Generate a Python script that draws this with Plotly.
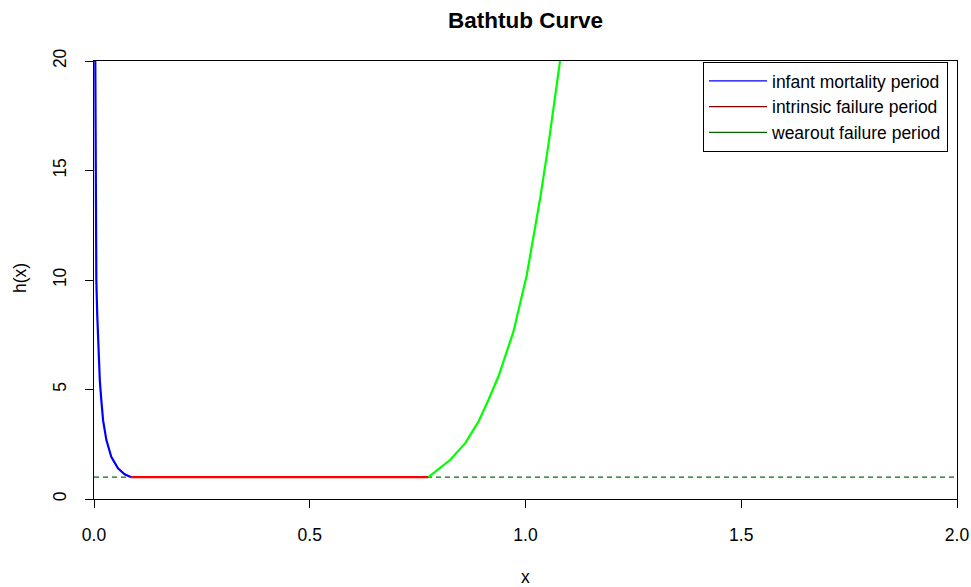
import plotly.graph_objects as go

# Hazard rate h(x) for the three phases of the bathtub curve
infant_x = [0.003, 0.004, 0.0054, 0.0075, 0.0093, 0.0135, 0.017, 0.021, 0.0286, 0.040, 0.0556, 0.071, 0.085]
infant_y = [20.0, 15.0, 10.0, 8.4, 7.3, 5.4, 4.5, 3.6, 2.7, 1.93, 1.40, 1.13, 1.0]

intrinsic_x = [0.085, 0.775]
intrinsic_y = [1.0, 1.0]

wearout_x = [0.775, 0.825, 0.860, 0.891, 0.914, 0.937, 0.972, 1.003, 1.034, 1.053, 1.080]
wearout_y = [1.0, 1.78, 2.54, 3.53, 4.52, 5.58, 7.64, 10.23, 13.73, 16.16, 20.0]

baseline_y = 1.0
legend_labels = ["infant mortality period", "intrinsic failure period", "wearout failure period"]
legend_colors = ["#0000FF", "#8B0000", "#006400"]

x_ticks = [0.0, 0.5, 1.0, 1.5, 2.0]
x_ticklabels = ["0.0", "0.5", "1.0", "1.5", "2.0"]
y_ticks = [0, 5, 10, 15, 20]

FONT = "Liberation Sans, Arial, sans-serif"
W, H = 971, 587
L, R, T, B = 94, 14, 61, 88
PW, PH = W - L - R, H - T - B

fig = go.Figure()

# Constant-rate reference line
fig.add_trace(go.Scatter(x=[0, 2], y=[baseline_y, baseline_y], mode="lines",
                         line=dict(color="#0b6e0b", width=1.2, dash="5px,4px"),
                         showlegend=False, hoverinfo="skip"))

fig.add_trace(go.Scatter(x=intrinsic_x, y=intrinsic_y, mode="lines",
                         line=dict(color="#FF0000", width=2.2), showlegend=False))
fig.add_trace(go.Scatter(x=infant_x, y=infant_y, mode="lines",
                         line=dict(color="#0000FF", width=2.2), showlegend=False))
fig.add_trace(go.Scatter(x=wearout_x, y=wearout_y, mode="lines",
                         line=dict(color="#00FF00", width=2.2), showlegend=False))

# Legend keys
for label, color in zip(legend_labels, legend_colors):
    fig.add_trace(go.Scatter(x=[None], y=[None], mode="lines", name=label,
                             line=dict(color=color, width=1.2)))

fig.update_layout(
    width=W, height=H,
    margin=dict(l=L, r=R, t=T, b=B),
    plot_bgcolor="white", paper_bgcolor="white",
    font=dict(family=FONT, size=17.5, color="black"),
    title=dict(text="<b>Bathtub Curve</b>", x=(L + PW / 2) / W, xanchor="center",
               y=1 - 20 / H, yanchor="middle", font=dict(size=22.5, family=FONT)),
    showlegend=True,
    legend=dict(x=(948 - L) / PW, xanchor="right", y=1 - 1 / PH, yanchor="top",
                bordercolor="black", borderwidth=1, bgcolor="white",
                font=dict(size=17.5, family=FONT), tracegroupgap=0,
                itemwidth=58),
    annotations=[
        dict(text="x", xref="paper", yref="paper", x=0.5, y=-(577 - (T + PH)) / PH,
             xanchor="center", yanchor="middle", showarrow=False,
             font=dict(size=17.5, family=FONT)),
        dict(text="h(x)", xref="paper", yref="paper", x=-(L - 20) / PW, y=1 - (278 - T) / PH,
             xanchor="center", yanchor="middle", textangle=-90, showarrow=False,
             font=dict(size=17.5, family=FONT)),
    ],
)

fig.update_xaxes(range=[0, 2], tickvals=x_ticks, ticktext=x_ticklabels,
                 ticks="outside", ticklen=8, tickcolor="black",
                 showline=True, linecolor="black", linewidth=1, mirror=True,
                 showgrid=False, zeroline=False, automargin=False,
                 ticklabelstandoff=12, tickfont=dict(size=17.5))
fig.update_yaxes(range=[0, 20], tickvals=y_ticks,
                 ticks="outside", ticklen=8, tickcolor="black", tickangle=-90,
                 showline=True, linecolor="black", linewidth=1, mirror=True,
                 showgrid=False, zeroline=False, automargin=False,
                 ticklabelstandoff=12, tickfont=dict(size=17.5))

fig.write_html("out.html")
